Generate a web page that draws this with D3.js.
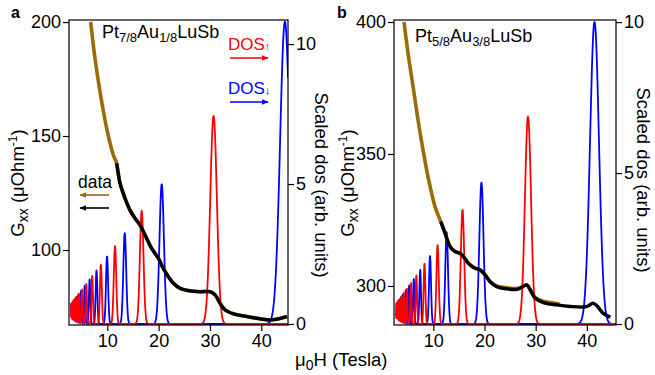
<!DOCTYPE html>
<html>
<head>
<meta charset="utf-8">
<script src="https://cdn.jsdelivr.net/npm/d3@7"></script>
<style>
  body { margin: 0; background: #fff; }
  svg text { font-family: "Liberation Sans", Arial, sans-serif; }
</style>
</head>
<body>
<svg id="fig" width="655" height="375"></svg>
<script>
// ---- data ----
// panel a : Pt7/8Au1/8LuSb
const brownA = [[6.76, 200], [7.6, 184.1], [8.58, 169.4], [9.88, 153.4], [11.17, 141.7], [11.83, 138.0],
  [12.48, 129.3], [13.45, 122.7], [14.42, 117.5], [15.4, 113.9], [16.37, 111.0], [17.35, 106.6],
  [18.65, 100.7], [19.94, 96.4], [20.9, 92.0], [21.9, 88.3], [22.87, 85.4], [24.17, 83.2],
  [26.1, 82.1], [28.07, 81.7], [30.0, 81.7], [31.0, 80.3], [31.97, 76.6], [32.95, 73.7],
  [34.6, 72.0], [37.2, 70.8], [39.8, 69.8], [41.7, 69.3], [43.7, 70.0], [45.0, 70.8]];
const blackA = brownA.filter(d => d[0] >= 11.6);
const upPeaksA = [30.7, 16.7, 11.5, 8.75, 7.06, 5.92, 5.1, 4.48, 3.99, 3.6, 3.28, 3.01, 2.78];
const upHeightsA = [7.43, 4.04, 2.78, 2.12, 1.71, 1.43, 1.23, 1.08, 0.97, 0.87, 0.79, 0.73, 0.67];
const downPeaksA = [44.6, 20.6, 13.4, 9.95, 7.9, 6.56, 5.6, 4.89, 4.34, 3.9, 3.54, 3.24, 2.99, 2.77];
const downHeightsA = [10.8, 4.99, 3.24, 2.41, 1.91, 1.59, 1.36, 1.18, 1.05, 0.94, 0.86, 0.78, 0.72, 0.67];

// panel b : Pt5/8Au3/8LuSb
const brownB = [[4.27, 400], [5.1, 387.5], [6.09, 374.9], [7.06, 362.2], [8.04, 350.9], [9.02, 340.8],
  [10.33, 330.0], [11.45, 324.4], [12.29, 320.0], [13.27, 314.9], [14.25, 313.0], [15.2, 312.4],
  [15.87, 311.1], [16.85, 308.6], [18.16, 306.7], [19.14, 306.1], [20.12, 304.2], [21.1, 301.6],
  [22.4, 300.0], [24.37, 299.3], [26.32, 299.0], [27.3, 299.6], [28.28, 300.4], [28.92, 298.7],
  [29.9, 295.7], [31.5, 294.2], [34.15, 293.3], [34.7, 293.1]];
const blackB = [[11.45, 324.4], [12.29, 320.0], [13.27, 314.9], [14.25, 313.0], [15.2, 312.4],
  [15.87, 311.1], [16.85, 308.6], [18.16, 306.7], [19.14, 306.1], [20.12, 304.2], [21.1, 301.6],
  [22.4, 299.7], [24.37, 298.9], [26.32, 298.7], [27.3, 299.5], [28.28, 300.4], [28.92, 298.5],
  [29.9, 295.3], [31.5, 293.7], [34.15, 292.8], [36.75, 292.2], [39.35, 292.0], [40.33, 292.5],
  [41.2, 293.5], [41.97, 292.5], [43.15, 289.7], [44.6, 288.2]];
const upPeaksB = [28.5, 15.7, 10.83, 8.27, 6.68, 5.61, 4.83, 4.24, 3.78, 3.41, 3.1, 2.85, 2.63, 2.45];
const upHeightsB = [6.87, 3.78, 2.61, 1.99, 1.61, 1.35, 1.16, 1.02, 0.91, 0.82, 0.75, 0.69, 0.63, 0.59];
const downPeaksB = [41.5, 19.4, 12.6, 9.35, 7.43, 6.17, 5.27, 4.6, 4.08, 3.67, 3.33, 3.05, 2.81, 2.61, 2.43];
const downHeightsB = [10.0, 4.68, 3.04, 2.25, 1.79, 1.49, 1.27, 1.11, 0.98, 0.88, 0.80, 0.74, 0.68, 0.63, 0.59];

const xTicks = [10, 20, 30, 40];
const dosTicks = [0, 5, 10];

const BROWN = "#9c6a08";
const svg = d3.select("#fig");

// arrow heads for the little legend arrows
const defs = svg.append("defs");
[["red", "#ff0000"], ["blue", "#0000ff"], ["brown", BROWN], ["black", "#000"]].forEach(([id, c]) => {
  defs.append("marker")
    .attr("id", "arr-" + id)
    .attr("viewBox", "0 0 10 10")
    .attr("refX", 9).attr("refY", 5)
    .attr("markerWidth", 4.5).attr("markerHeight", 4.5)
    .attr("orient", "auto")
    .append("path").attr("d", "M0,1 L10,5 L0,9 Z").attr("fill", c);
});

// sum of gaussian Landau-level peaks, width grows with field
function dosCurve(centers, heights, start, end) {
  const pts = [];
  for (let b = start; b <= end; b += 0.004) {
    let v = 0;
    centers.forEach((c, i) => {
      const s = 0.021 * c;
      v += heights[i] * Math.exp(-((b - c) * (b - c)) / (2 * s * s));
    });
    pts.push([b, v]);
  }
  return pts;
}

function drawPanel(cfg) {
  const g = svg.append("g");
  const x = d3.scaleLinear().domain(cfg.xDomain).range([cfg.x0, cfg.x1]);
  const yL = d3.scaleLinear().domain(cfg.yDomain).range([cfg.y1, cfg.y0]);
  const yR = d3.scaleLinear().domain(cfg.dosDomain).range([cfg.y1, cfg.y0]);

  g.append("clipPath").attr("id", "clip-" + cfg.id)
    .append("rect")
    .attr("x", cfg.x0).attr("y", cfg.y0)
    .attr("width", cfg.x1 - cfg.x0).attr("height", cfg.y1 - cfg.y0);

  const plot = g.append("g").attr("clip-path", `url(#clip-${cfg.id})`);
  const dosLine = d3.line().x(d => x(d[0])).y(d => yR(d[1]));
  plot.append("path")
    .attr("d", dosLine(dosCurve(cfg.downPeaks, cfg.downHeights, cfg.dosStart, cfg.xDomain[1])))
    .attr("fill", "none").attr("stroke", "#0000ff").attr("stroke-width", 1.8);
  plot.append("path")
    .attr("d", dosLine(dosCurve(cfg.upPeaks, cfg.upHeights, cfg.dosStart, cfg.xDomain[1])))
    .attr("fill", "none").attr("stroke", "#ff0000").attr("stroke-width", 1.8);

  const dataLine = d3.line().curve(d3.curveCatmullRom).x(d => x(d[0])).y(d => yL(d[1]));
  plot.append("path").attr("d", dataLine(cfg.brown))
    .attr("fill", "none").attr("stroke", BROWN).attr("stroke-width", 3.6);
  plot.append("path").attr("d", dataLine(cfg.black))
    .attr("fill", "none").attr("stroke", "#000").attr("stroke-width", 3.4);

  // frame
  g.append("rect")
    .attr("x", cfg.x0).attr("y", cfg.y0)
    .attr("width", cfg.x1 - cfg.x0).attr("height", cfg.y1 - cfg.y0)
    .attr("fill", "none").attr("stroke", "#000").attr("stroke-width", 1.2);

  const styleAxis = sel => {
    sel.select(".domain").remove();
    sel.selectAll("line").attr("stroke-width", 1.2);
    sel.selectAll("text").style("font-size", "18px").attr("fill", "#000");
  };
  g.append("g").attr("transform", `translate(${cfg.x0},0)`)
    .call(d3.axisLeft(yL).tickValues(cfg.yTicks).tickSize(6).tickPadding(2))
    .call(styleAxis);
  g.append("g").attr("transform", `translate(${cfg.x1},0)`)
    .call(d3.axisRight(yR).tickValues(dosTicks).tickSize(6).tickPadding(2))
    .call(styleAxis);
  g.append("g").attr("transform", `translate(0,${cfg.y1})`)
    .call(d3.axisBottom(x).tickValues(xTicks).tickSize(6).tickPadding(3))
    .call(styleAxis);

  // panel letter
  g.append("text").attr("x", cfg.letterX).attr("y", 18)
    .style("font-size", "16px").style("font-weight", "bold").text(cfg.id);

  // sample name
  const nm = g.append("text").attr("x", cfg.nameX).attr("y", cfg.nameY).style("font-size", "18px");
  nm.append("tspan").text("Pt");
  nm.append("tspan").attr("dy", 4).style("font-size", "13px").text(cfg.sub1);
  nm.append("tspan").attr("dy", -4).text("Au");
  nm.append("tspan").attr("dy", 4).style("font-size", "13px").text(cfg.sub2);
  nm.append("tspan").attr("dy", -4).text("LuSb");

  // left axis title
  const lt = g.append("text")
    .attr("transform", `translate(${cfg.leftTitleX},${cfg.leftTitleY}) rotate(-90)`)
    .attr("text-anchor", "middle").style("font-size", "18.5px");
  lt.append("tspan").text("G");
  lt.append("tspan").attr("dy", 4).style("font-size", "14px").text("xx");
  lt.append("tspan").attr("dy", -4).text(" (μOhm");
  lt.append("tspan").attr("dy", -7).style("font-size", "12px").text("-1");
  lt.append("tspan").attr("dy", 7).text(")");

  // right axis title
  g.append("text")
    .attr("transform", `translate(${cfg.rightTitleX},${cfg.rightTitleY}) rotate(90)`)
    .attr("text-anchor", "middle").style("font-size", "18.5px")
    .text("Scaled dos (arb. units)");
  return g;
}

const gA = drawPanel({
  id: "a", x0: 69, x1: 288, y0: 20, y1: 325,
  xDomain: [2.54, 45.2], yDomain: [67.1, 200.9], dosDomain: [-0.036, 10.86],
  yTicks: [100, 150, 200],
  brown: brownA, black: blackA,
  upPeaks: upPeaksA, upHeights: upHeightsA, downPeaks: downPeaksA, downHeights: downHeightsA,
  dosStart: 2.9,
  letterX: 11, nameX: 102, nameY: 38, sub1: "7/8", sub2: "1/8",
  leftTitleX: 24, leftTitleY: 183, rightTitleX: 315, rightTitleY: 185
});

const gB = drawPanel({
  id: "b", x0: 394, x1: 616, y0: 20, y1: 325,
  xDomain: [2.31, 45.7], yDomain: [285.2, 400.76], dosDomain: [-0.033, 10.07],
  yTicks: [300, 350, 400],
  brown: brownB, black: blackB,
  upPeaks: upPeaksB, upHeights: upHeightsB, downPeaks: downPeaksB, downHeights: downHeightsB,
  dosStart: 2.7,
  letterX: 337, nameX: 415, nameY: 42, sub1: "5/8", sub2: "3/8",
  leftTitleX: 354, leftTitleY: 183, rightTitleX: 637, rightTitleY: 180
});

// legend texts and arrows in panel a
const dUp = gA.append("text").attr("x", 228).attr("y", 50).attr("fill", "#ff0000").style("font-size", "17px");
dUp.append("tspan").text("DOS");
dUp.append("tspan").style("font-size", "11px").text("↑");
const dDn = gA.append("text").attr("x", 228).attr("y", 94).attr("fill", "#0000ff").style("font-size", "17px");
dDn.append("tspan").text("DOS");
dDn.append("tspan").style("font-size", "11px").text("↓");
gA.append("line").attr("x1", 230).attr("x2", 268).attr("y1", 58).attr("y2", 58)
  .attr("stroke", "#ff0000").attr("stroke-width", 1.6).attr("marker-end", "url(#arr-red)");
gA.append("line").attr("x1", 230).attr("x2", 268).attr("y1", 102).attr("y2", 102)
  .attr("stroke", "#0000ff").attr("stroke-width", 1.6).attr("marker-end", "url(#arr-blue)");

gA.append("text").attr("x", 78).attr("y", 188).style("font-size", "17.5px").text("data");
gA.append("line").attr("x1", 109).attr("x2", 80).attr("y1", 195).attr("y2", 195)
  .attr("stroke", BROWN).attr("stroke-width", 1.6).attr("marker-end", "url(#arr-brown)");
gA.append("line").attr("x1", 109).attr("x2", 80).attr("y1", 208).attr("y2", 208)
  .attr("stroke", "#000").attr("stroke-width", 1.6).attr("marker-end", "url(#arr-black)");

// shared x title
const xt = svg.append("text").attr("x", 295).attr("y", 366).style("font-size", "18.5px");
xt.append("tspan").text("μ");
xt.append("tspan").attr("dy", 4).style("font-size", "14px").text("0");
xt.append("tspan").attr("dy", -4).text("H (Tesla)");
</script>
</body>
</html>
